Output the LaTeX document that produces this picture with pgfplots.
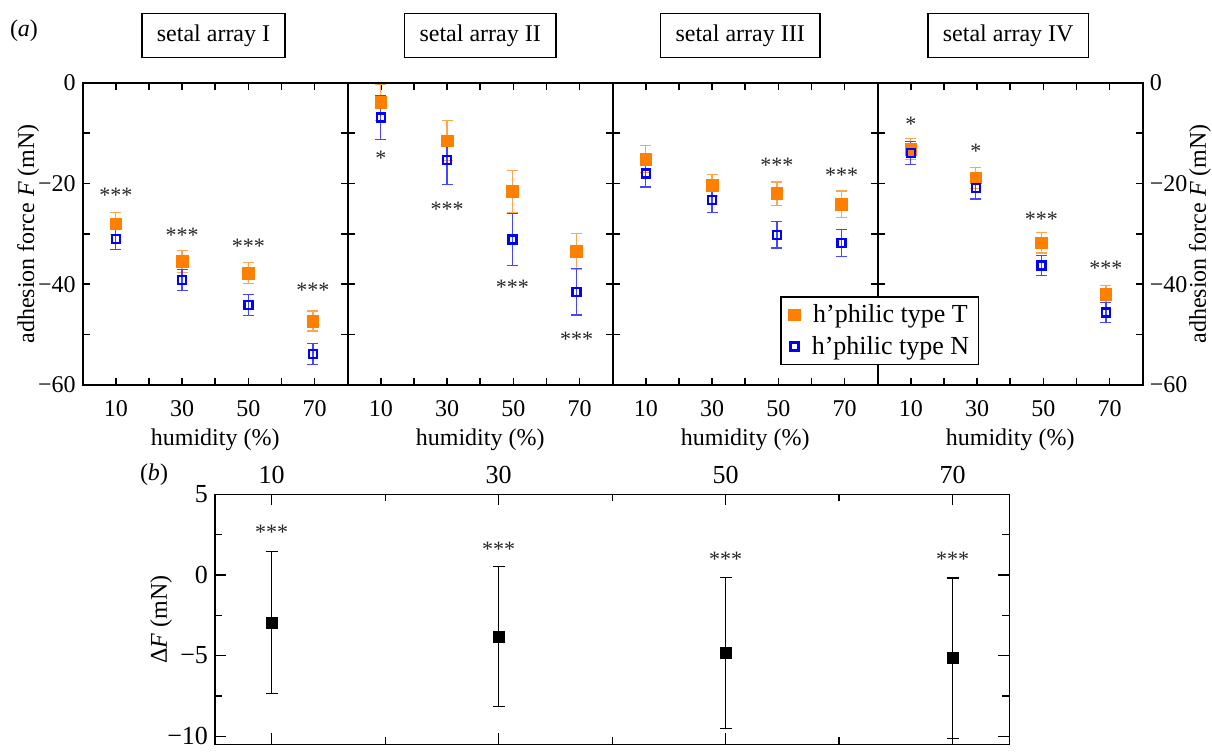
\documentclass[border=0pt]{standalone}
\usepackage{fontspec}
\setmainfont{Liberation Serif}
\usepackage{pgfplots}
\pgfplotsset{compat=1.18}

\definecolor{tcol}{RGB}{255,128,0}
\definecolor{terr}{RGB}{255,165,80}
\definecolor{ncol}{RGB}{0,0,255}
\definecolor{nerr}{RGB}{70,70,255}

\newcommand{\fs}{\fontsize{12}{14}\selectfont}

\pgfplotsset{
  panel/.style={
    anchor=north west, scale only axis,
    width=132.5pt, height=151.15pt,
    xmin=0, xmax=80, ymin=-60, ymax=0,
    xtick={10,30,50,70}, minor xtick={20,40,60},
    ytick={-60,-40,-20,0}, yticklabels={−60,−40,−20,0},
    minor ytick={-50,-30,-10},
    major tick length=3.5pt, minor tick length=3.5pt,
    tick align=inside,
    every tick/.style={black, line width=0.8pt},
    axis line style={line width=0.9pt},
    tick label style={font=\fs},
    label style={font=\fs},
    xticklabel style={yshift=-4pt},
    /pgf/number format/assume math mode=true,
    xlabel={humidity (\%)},
    xlabel style={at={(axis description cs:0.5,-0.182)}, anchor=center},
    clip=false,
  },
  Tser/.style={only marks, mark=square*, mark size=2.9pt, color=tcol,
    mark options={fill=tcol, draw=tcol, line width=0.3pt},
    error bars/y dir=both, error bars/y explicit,
    error bars/error bar style={terr, line width=0.6pt},
    error bars/error mark options={rotate=90, mark size=2.75pt, terr, line width=0.6pt}},
  Nser/.style={only marks, mark=square, mark size=2pt, color=ncol,
    mark options={draw=ncol, line width=1.2pt},
    error bars/y dir=both, error bars/y explicit,
    error bars/error bar style={nerr, line width=0.6pt},
    error bars/error mark options={rotate=90, mark size=2.75pt, nerr, line width=0.6pt}},
}
\tikzset{titlebox/.style={draw, line width=0.7pt, font=\fs, minimum height=22pt, inner xsep=7.5pt, anchor=south}}
\newcommand{\stars}[3]{\node[font=\fontsize{11}{13}\selectfont, text=black!85, yshift=-1.4pt] at (axis cs:#1,#2) {#3};}

\begin{document}
\begin{tikzpicture}
\useasboundingbox (0,0) rectangle (606pt,-377pt);

% setal array I
\begin{axis}[panel, name=p1, at={(41.35pt,-41.35pt)},
  ylabel={adhesion force \textit{F} (mN)},
  ylabel style={at={(axis description cs:-0.206,0.5)}, anchor=center}]
\addplot[Tser] coordinates {(10,-28.0) +- (0,2.2) (30,-35.5) +- (0,2.2) (50,-37.8) +- (0,2.1) (69.5,-47.3) +- (0,2.0)};
\addplot[Nser] coordinates {(10,-31.0) +- (0,2.1) (30,-39.2) +- (0,2.1) (50,-44.1) +- (0,2.1) (69.5,-53.9) +- (0,2.1)};
\stars{10}{-21.8}{***}
\stars{30}{-29.7}{***}
\stars{50}{-31.9}{***}
\stars{69.5}{-40.6}{***}
\end{axis}

% setal array II
\begin{axis}[panel, name=p2, at={(173.85pt,-41.35pt)}, yticklabels={}]
\addplot[Tser] coordinates {(10,-3.9) +- (0,3.6) (30,-11.5) +- (0,4.0) (49.7,-21.6) +- (0,4.2) (69.1,-33.5) +- (0,3.5)};
\addplot[Nser] coordinates {(10,-6.9) +- (0,4.3) (30,-15.4) +- (0,4.8) (49.7,-31.1) +- (0,5.2) (69.1,-41.5) +- (0,4.6)};
\stars{10}{-14.4}{*}
\stars{30}{-24.5}{***}
\stars{49.7}{-40.0}{***}
\stars{69.1}{-50.3}{***}
\end{axis}

% setal array III
\begin{axis}[panel, name=p3, at={(306.35pt,-41.35pt)}, yticklabels={}]
\addplot[Tser] coordinates {(10,-15.2) +- (0,2.7) (30,-20.4) +- (0,2.1) (49.6,-22.0) +- (0,2.3) (69.1,-24.1) +- (0,2.6)};
\addplot[Nser] coordinates {(10,-18.0) +- (0,2.7) (30,-23.3) +- (0,2.4) (49.6,-30.2) +- (0,2.6) (69.1,-31.8) +- (0,2.7)};
\stars{49.6}{-15.8}{***}
\stars{69.1}{-17.9}{***}
\end{axis}

% setal array IV (legend drawn here so it lies over the shared border)
\begin{axis}[panel, name=p4, at={(438.85pt,-41.35pt)},
  yticklabel pos=right,
  ylabel={adhesion force \textit{F} (mN)},
  ylabel style={at={(axis description cs:1.216,0.5)}, anchor=center},
  legend style={name=leg, at={(axis description cs:-0.365,0.292)}, anchor=north west,
    draw=black, fill=white, font=\fontsize{13}{15}\selectfont,
    inner xsep=2.5pt, inner ysep=1.5pt, row sep=1.5pt},
  legend image code/.code={\path (0pt,0pt) (10.3pt,0pt); \draw[#1] plot coordinates {(3.9pt,0pt)};}]
\addplot[Tser] coordinates {(10,-13.2) +- (0,2.1) (29.6,-18.9) +- (0,2.1) (49.4,-31.8) +- (0,2.0) (68.9,-42.0) +- (0,1.7)};
\addlegendentry{h’philic type T}
\addplot[Nser] coordinates {(10,-13.9) +- (0,2.3) (29.6,-20.9) +- (0,2.2) (49.4,-36.3) +- (0,2.0) (68.9,-45.6) +- (0,2.0)};
\addlegendentry{h’philic type N}
\stars{10}{-7.8}{*}
\stars{29.6}{-13.0}{*}
\stars{49.4}{-26.5}{***}
\stars{68.9}{-36.2}{***}
\end{axis}
\draw[black, line width=0.6pt] (leg.south west) rectangle (leg.north east);

\node[titlebox, xshift=-0.85pt] at ([yshift=12.35pt]p1.north) {setal array I};
\node[titlebox] at ([yshift=12.35pt]p2.north) {setal array II};
\node[titlebox, xshift=-2.5pt] at ([yshift=12.35pt]p3.north) {setal array III};
\node[titlebox, xshift=-1pt] at ([yshift=12.35pt]p4.north) {setal array IV};
\node[font=\fs] at (12pt,-15.5pt) {(\textit{a})};

% panel (b)
\begin{axis}[name=pb, at={(107.5pt,-247.15pt)}, anchor=north west, scale only axis,
  width=397.15pt, height=125pt,
  xmin=5, xmax=75, ymin=-10.5, ymax=5,
  xtick={10,30,50,70}, minor xtick={20,40,60},
  xticklabel pos=upper,
  ytick={-10,-5,0,5}, yticklabels={−10,−5,0,5},
  minor ytick={-7.5,-2.5,2.5},
  major tick length=5.5pt, minor tick length=3.5pt,
  tick align=inside,
  every tick/.style={black, line width=0.6pt},
  axis line style={line width=0.7pt},
  tick label style={font=\fontsize{13}{15}\selectfont},
  xticklabel style={yshift=1.5pt},
  /pgf/number format/assume math mode=true,
  ylabel={Δ\textit{F} (mN)}, label style={font=\fs},
  ylabel style={at={(axis description cs:-0.068,0.5)}, anchor=center},
  clip=false]
\addplot[only marks, mark=square*, mark size=2.75pt, black,
  error bars/y dir=both, error bars/y explicit,
  error bars/error bar style={black, line width=0.6pt},
  error bars/error mark options={rotate=90, mark size=3pt, black, line width=0.6pt}]
  coordinates {(10,-2.97) +- (0,4.4) (30,-3.83) +- (0,4.33) (50,-4.84) +- (0,4.7) (70,-5.16) +- (0,4.97)};
\stars{10}{2.84}{***}
\stars{30}{1.77}{***}
\stars{50}{1.14}{***}
\stars{70}{1.14}{***}
\end{axis}
\node[font=\fs] at (77pt,-237.5pt) {(\textit{b})};

\end{tikzpicture}
\end{document}
